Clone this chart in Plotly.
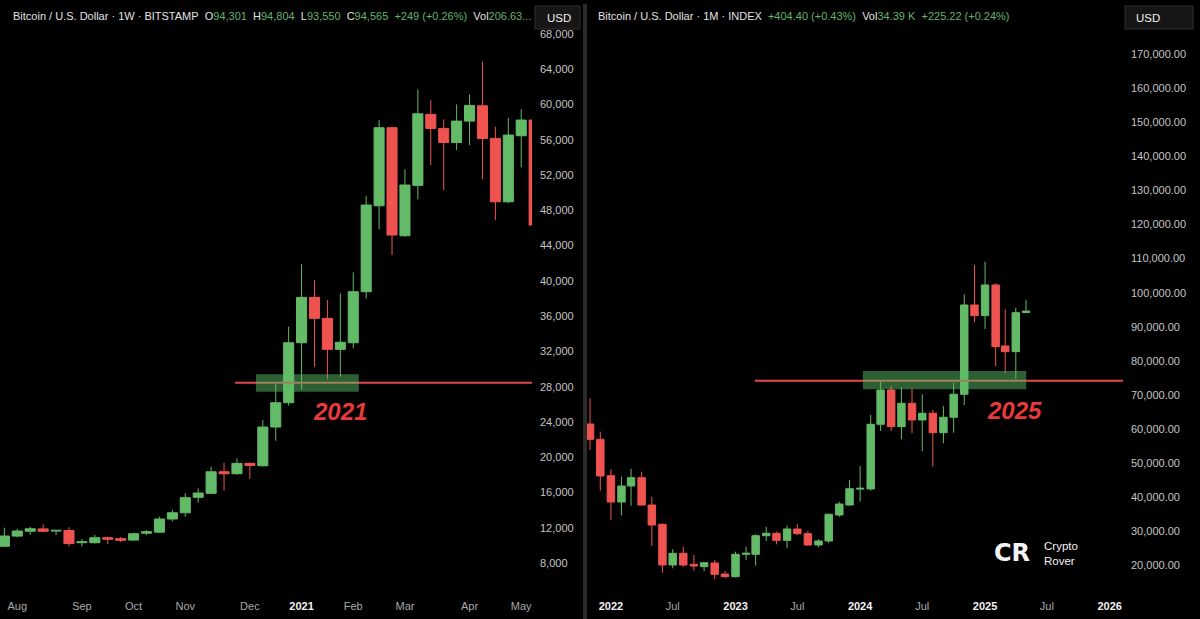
import plotly.graph_objects as go

# ---------------- Left panel: BTC weekly (BITSTAMP) ----------------
w_dates = ["2020-07-27", "2020-08-03", "2020-08-10", "2020-08-17", "2020-08-24", "2020-08-31",
           "2020-09-07", "2020-09-14", "2020-09-21", "2020-09-28", "2020-10-05", "2020-10-12",
           "2020-10-19", "2020-10-26", "2020-11-02", "2020-11-09", "2020-11-16", "2020-11-23",
           "2020-11-30", "2020-12-07", "2020-12-14", "2020-12-21", "2020-12-28", "2021-01-04",
           "2021-01-11", "2021-01-18", "2021-01-25", "2021-02-01", "2021-02-08", "2021-02-15",
           "2021-02-22", "2021-03-01", "2021-03-08", "2021-03-15", "2021-03-22", "2021-03-29",
           "2021-04-05", "2021-04-12", "2021-04-19", "2021-04-26", "2021-05-03", "2021-05-10"]
w_open = [9900, 11050, 11600, 11870, 11620, 11680, 10300, 10300, 10870, 10760, 10600, 11380,
          11500, 12990, 13700, 15450, 15900, 18350, 18130, 19300, 19030, 23420, 26180, 32980,
          38130, 35750, 32230, 32980, 38770, 48520, 57370, 45120, 50830, 58880, 57290, 55700,
          58120, 59860, 56160, 48970, 56460, 58240]
w_high = [12000, 11900, 12080, 12400, 11760, 12050, 10720, 11170, 10990, 10950, 11450, 11720,
          13250, 14030, 15900, 16470, 18920, 19380, 19870, 19400, 24220, 28400, 34800, 41900,
          40100, 37830, 38580, 40970, 49620, 58240, 57500, 52650, 61720, 60500, 58320, 60020,
          61150, 64850, 57490, 58500, 59450, 58300]
w_low = [9850, 10900, 11170, 11500, 11175, 9870, 9880, 10200, 10130, 10370, 10530, 11180,
         11400, 12700, 13250, 14840, 15800, 16200, 18000, 17530, 18950, 21870, 25840, 27700,
         30260, 28830, 29130, 32350, 38010, 45840, 42930, 45000, 49240, 53130, 50300, 54830,
         55400, 51520, 46900, 48800, 52870, 46300]
w_close = [11060, 11630, 11880, 11600, 11700, 10200, 10400, 10870, 10700, 10580, 11320, 11550,
           12990, 13700, 15410, 15940, 18350, 18120, 19300, 19070, 23420, 26180, 32980, 38130,
           35750, 32230, 33030, 38770, 48600, 57370, 45200, 50870, 58950, 57290, 55700, 58120,
           59900, 56150, 48970, 56540, 58240, 46330]
w_tickvals = ["2020-08-03", "2020-09-07", "2020-10-05", "2020-11-02", "2020-12-07", "2021-01-04",
              "2021-02-01", "2021-03-01", "2021-04-05", "2021-05-03"]
w_ticktext = ["Aug", "Sep", "Oct", "Nov", "Dec", "<b>2021</b>", "Feb", "Mar", "Apr", "May"]
w_yticks = [8000, 12000, 16000, 20000, 24000, 28000, 32000, 36000, 40000, 44000, 48000,
            52000, 56000, 60000, 64000, 68000]
w_level = 28450
w_zone = [27430, 29400]

# ---------------- Right panel: BTC monthly (INDEX) ----------------
m_dates = ["2021-11-01", "2021-12-01",
           "2022-01-01", "2022-02-01", "2022-03-01", "2022-04-01", "2022-05-01", "2022-06-01",
           "2022-07-01", "2022-08-01", "2022-09-01", "2022-10-01", "2022-11-01", "2022-12-01",
           "2023-01-01", "2023-02-01", "2023-03-01", "2023-04-01", "2023-05-01", "2023-06-01",
           "2023-07-01", "2023-08-01", "2023-09-01", "2023-10-01", "2023-11-01", "2023-12-01",
           "2024-01-01", "2024-02-01", "2024-03-01", "2024-04-01", "2024-05-01", "2024-06-01",
           "2024-07-01", "2024-08-01", "2024-09-01", "2024-10-01", "2024-11-01", "2024-12-01",
           "2025-01-01", "2025-02-01", "2025-03-01", "2025-04-01", "2025-05-01"]
m_open = [61500, 57000, 46340, 38620, 43320, 45750, 37740, 32080, 20150, 23580, 20350, 19650,
          20730, 17500, 16720, 23280, 23280, 28740, 29440, 27390, 30700, 29330, 26010, 27190,
          34810, 37740, 42400, 42440, 61410, 71470, 60720, 67570, 62680, 64640, 58950, 63470,
          70210, 96400, 93270, 102270, 84380, 82710, 94200]
m_high = [69000, 59240, 48210, 46050, 48390, 47510, 40180, 32300, 24750, 25510, 23080, 21000,
          21600, 18400, 24050, 25510, 29200, 31380, 29900, 31680, 32170, 30200, 27680, 35200,
          38710, 45080, 49180, 64140, 73910, 72650, 72150, 71970, 70210, 65610, 66780, 73620,
          99540, 108130, 109110, 102800, 95140, 95620, 97870]
m_low = [53870, 41940, 33350, 34720, 37540, 37600, 25720, 17900, 19180, 19600, 18470, 18300,
         15950, 16400, 16500, 21610, 19940, 27190, 26220, 25040, 29000, 25720, 25340, 26550,
         34310, 37540, 38710, 41940, 59450, 59450, 57010, 58770, 53500, 49000, 55840, 58950,
         67070, 91330, 89360, 78510, 76550, 74700, 93970]
m_close = [57000, 46250, 38620, 43320, 45750, 37740, 31880, 20150, 23580, 20150, 19850, 20820,
           17420, 16720, 23280, 23580, 28740, 29440, 27390, 30700, 29330, 26010, 27190, 35020,
           38040, 42520, 42640, 61410, 71470, 60720, 67570, 62680, 64640, 58950, 63470, 70210,
           96400, 93270, 102270, 84170, 82710, 94150, 94600]
m_tickvals = ["2022-01-01", "2022-07-01", "2023-01-01", "2023-07-01", "2024-01-01",
              "2024-07-01", "2025-01-01", "2025-07-01", "2026-01-01"]
m_ticktext = ["<b>2022</b>", "Jul", "<b>2023</b>", "Jul", "<b>2024</b>", "Jul", "<b>2025</b>",
              "Jul", "<b>2026</b>"]
m_yticks = [20000, 30000, 40000, 50000, 60000, 70000, 80000, 90000, 100000, 110000, 120000,
            130000, 140000, 150000, 160000, 170000]
m_level = 74200
m_zone = [71700, 77050]

# ---------------- Style ----------------
UP = "#63BA67"
DOWN = "#EF5350"
BG = "#000000"
AXIS_TXT = "#C4C4C4"
NUM_GREEN = "#62B36C"
LINE_RED = "#E2474B"
FONT = "Liberation Sans, Arial, sans-serif"
W, H = 1200, 619


def px(x):
    return x / W


def py(y):
    return 1 - y / H


def year_text(t):
    if t.startswith("<b>"):
        return '<span style="color:#F2F2F2">' + t + "</span>"
    return t


fig = go.Figure()

fig.add_trace(go.Candlestick(
    x=w_dates, open=w_open, high=w_high, low=w_low, close=w_close,
    increasing=dict(line=dict(color=UP, width=1), fillcolor=UP),
    decreasing=dict(line=dict(color=DOWN, width=1), fillcolor=DOWN),
    xaxis="x", yaxis="y", showlegend=False, hoverinfo="skip"))

fig.add_trace(go.Candlestick(
    x=m_dates, open=m_open, high=m_high, low=m_low, close=m_close,
    increasing=dict(line=dict(color=UP, width=1), fillcolor=UP),
    decreasing=dict(line=dict(color=DOWN, width=1), fillcolor=DOWN),
    xaxis="x2", yaxis="y2", showlegend=False, hoverinfo="skip"))

ydom = [1 - 590 / H, 1]
w_range = ["2020-07-24 15:00", "2021-05-08 20:00"]
m_range = ["2021-10-23", "2026-02-09"]

common_x = dict(type="date", showgrid=False, zeroline=False, showline=False, ticks="",
                tickfont=dict(family=FONT, size=11, color="#A9A9A9"),
                rangeslider=dict(visible=False), ticklabelstandoff=8)
common_y = dict(showgrid=False, zeroline=False, showline=False, ticks="", side="right",
                tickfont=dict(family=FONT, size=11, color=AXIS_TXT), ticklabelstandoff=7)

fig.update_layout(
    width=W, height=H, margin=dict(l=0, r=0, t=0, b=0),
    paper_bgcolor=BG, plot_bgcolor=BG, showlegend=False,
    boxgap=0.22, boxgroupgap=0,
    xaxis=dict(domain=[0, px(532)], range=w_range, anchor="y",
               tickvals=w_tickvals, ticktext=[year_text(t) for t in w_ticktext], **common_x),
    yaxis=dict(domain=ydom, range=[4938, 71856], anchor="x",
               tickvals=w_yticks, tickformat=",", **common_y),
    xaxis2=dict(domain=[px(587), px(1123)], range=m_range, anchor="y2",
                tickvals=m_tickvals, ticktext=[year_text(t) for t in m_ticktext], **common_x),
    yaxis2=dict(domain=ydom, range=[12815, 185836], anchor="x2",
                tickvals=m_yticks, tickformat=",.2f", **common_y),
)

shapes = []
# support / resistance lines
shapes.append(dict(type="line", xref="x", yref="y", x0="2020-11-29", x1=w_range[1],
                   y0=w_level, y1=w_level, line=dict(color=LINE_RED, width=2), layer="above"))
shapes.append(dict(type="line", xref="x2", yref="y2", x0="2023-02-27", x1=m_range[1],
                   y0=m_level, y1=m_level, line=dict(color=LINE_RED, width=2), layer="above"))
# green zones
shapes.append(dict(type="rect", xref="x", yref="y", x0="2020-12-10 07:00", x1="2021-02-04",
                   y0=w_zone[0], y1=w_zone[1], fillcolor="rgba(92,190,104,0.5)",
                   line=dict(width=0), layer="above"))
shapes.append(dict(type="rect", xref="x2", yref="y2", x0="2024-01-09", x1="2025-05-01 12:00",
                   y0=m_zone[0], y1=m_zone[1], fillcolor="rgba(92,190,104,0.5)",
                   line=dict(width=0), layer="above"))
# panel separator
shapes.append(dict(type="rect", xref="paper", yref="paper", x0=px(583), x1=px(587),
                   y0=0, y1=py(4), fillcolor="#2B2B2B", line=dict(width=0), layer="above"))
# USD boxes
for (a, b) in [(535, 580), (1125, 1193)]:
    shapes.append(dict(type="rect", xref="paper", yref="paper", x0=px(a), x1=px(b),
                       y0=py(29), y1=py(6), fillcolor="#161616",
                       line=dict(color="#2E2E2E", width=1), layer="above"))
fig.update_layout(shapes=shapes)

nb = "\u00a0"


def g(s):
    return '<span style="color:%s">%s</span>' % (NUM_GREEN, s)


left_header = ("Bitcoin / U.S. Dollar · 1W · BITSTAMP" + nb * 2 + "O" + g("94,301") + nb * 2 +
               "H" + g("94,804") + nb * 2 + "L" + g("93,550") + nb * 2 + "C" + g("94,565") +
               nb * 2 + g("+249 (+0.26%)") + nb * 2 + "Vol" + g("206.63..."))
right_header = ("Bitcoin / U.S. Dollar · 1M · INDEX" + nb * 2 + g("+404.40 (+0.43%)") + nb * 2 +
                "Vol" + g("34.39" + nb + "K") + nb * 2 + g("+225.22 (+0.24%)"))

annotations = [
    dict(text=left_header, xref="paper", yref="paper", x=px(11), y=py(16.5), xanchor="left",
         yanchor="middle", showarrow=False, font=dict(family=FONT, size=11, color="#E2E2E2")),
    dict(text=right_header, xref="paper", yref="paper", x=px(596), y=py(16.5), xanchor="left",
         yanchor="middle", showarrow=False, font=dict(family=FONT, size=11, color="#E2E2E2")),
    dict(text="USD", xref="paper", yref="paper", x=px(545), y=py(17.5), xanchor="left",
         yanchor="middle", showarrow=False, font=dict(family=FONT, size=11.5, color="#F0F0F0")),
    dict(text="USD", xref="paper", yref="paper", x=px(1134), y=py(17.5), xanchor="left",
         yanchor="middle", showarrow=False, font=dict(family=FONT, size=11.5, color="#F0F0F0")),
    dict(text="<b><i>2021</i></b>", xref="x", yref="y", x="2021-01-24 19:00", y=25240,
         xanchor="center", yanchor="middle", showarrow=False,
         font=dict(family=FONT, size=24, color="#E8393C")),
    dict(text="<b><i>2025</i></b>", xref="x2", yref="y2", x="2025-03-27", y=65310,
         xanchor="center", yanchor="middle", showarrow=False,
         font=dict(family=FONT, size=24, color="#E8393C")),
    dict(text="<b>CR</b>", xref="paper", yref="paper", x=px(1012), y=py(553), xanchor="center",
         yanchor="middle", showarrow=False,
         font=dict(family="DejaVu Sans, sans-serif", size=24, color="#F4F4F4")),
    dict(text="Crypto<br>Rover", xref="paper", yref="paper", x=px(1042), y=py(553),
         xanchor="left", yanchor="middle", align="left", showarrow=False,
         font=dict(family=FONT, size=11.5, color="#F0F0F0")),
]
fig.update_layout(annotations=annotations)

fig.write_html("out.html")
